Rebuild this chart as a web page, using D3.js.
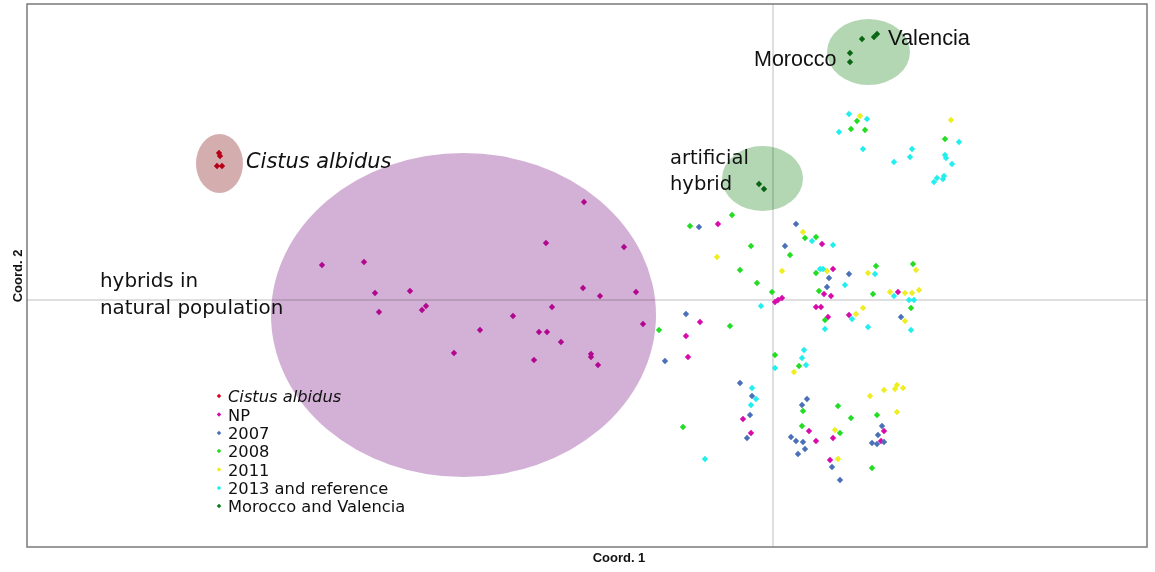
<!DOCTYPE html>
<html><head><meta charset="utf-8">
<script src="https://cdn.jsdelivr.net/npm/d3@7"></script>
<style>body{margin:0;background:#fff;} svg{display:block;}</style>
</head><body>
<svg id="chart" width="1155" height="572"></svg>
<script>
// ---- Data (Coord. 1, Coord. 2) ----
const seriesNames = ["Cistus albidus","NP","2007","2008","2011","2013 and reference","Morocco and Valencia"];
const seriesColors = ["#dc0020","#d70aaa","#4a70b8","#22dd22","#eeee22","#22eeee","#0a7a18"];

const cistusAlbidus = [[-0.554,0.147],[-0.553,0.144],[-0.556,0.134],[-0.551,0.134]];
const np = [
 [-0.189,0.098],[-0.227,0.057],[-0.149,0.053],[-0.451,0.035],[-0.409,0.038],[-0.398,0.007],[-0.363,0.009],
 [-0.190,0.012],[-0.173,0.004],[-0.137,0.008],[-0.394,-0.012],[-0.351,-0.010],[-0.347,-0.006],[-0.221,-0.007],
 [-0.260,-0.016],[-0.130,-0.024],[-0.293,-0.030],[-0.234,-0.032],[-0.226,-0.032],[-0.212,-0.042],[-0.319,-0.053],
 [-0.239,-0.060],[-0.182,-0.054],[-0.182,-0.057],[-0.175,-0.065],
 [-0.055,0.076],[0.049,0.056],[0.060,0.031],[0.051,0.006],[0.058,0.004],[0.002,-0.002],[0.005,0.000],[0.009,0.002],
 [0.043,-0.007],[0.048,-0.007],[0.055,-0.017],[0.076,-0.015],[0.125,0.008],[-0.073,-0.022],[-0.087,-0.036],
 [-0.085,-0.057],[-0.030,-0.119],[-0.022,-0.133],[0.036,-0.131],[0.043,-0.141],[0.060,-0.138],[0.057,-0.160],
 [0.111,-0.131],[0.108,-0.141]
];
const y2007 = [
 [-0.074,0.073],[0.023,0.076],[0.012,0.054],[0.056,0.022],[0.076,0.026],[0.054,0.013],[0.128,-0.017],[-0.087,-0.014],
 [-0.108,-0.061],[-0.033,-0.083],[-0.021,-0.096],[-0.023,-0.115],[-0.026,-0.138],[0.034,-0.099],[0.029,-0.105],
 [0.018,-0.137],[0.023,-0.141],[0.030,-0.142],[0.032,-0.149],[0.025,-0.154],[0.059,-0.167],[0.067,-0.180],
 [0.109,-0.126],[0.105,-0.135],[0.099,-0.143],[0.104,-0.144],[0.111,-0.142]
];
const y2008 = [
 [0.084,0.179],[0.078,0.171],[0.092,0.170],[0.172,0.161],[-0.041,0.085],[-0.083,0.074],[-0.022,0.054],[-0.033,0.030],
 [-0.016,0.017],[-0.001,0.008],[0.032,0.062],[0.043,0.063],[0.017,0.045],[0.043,0.027],[0.046,0.009],[0.103,0.034],
 [0.140,0.036],[0.100,0.006],[0.138,-0.008],[0.052,-0.020],[-0.114,-0.030],[-0.043,-0.026],[0.002,-0.055],
 [0.026,-0.066],[-0.090,-0.127],[0.030,-0.111],[0.029,-0.126],[0.065,-0.106],[0.078,-0.118],[0.067,-0.133],
 [0.104,-0.115],[0.099,-0.168]
];
const y2011 = [
 [0.087,0.184],[0.178,0.180],[-0.056,0.043],[0.030,0.068],[0.009,0.029],[0.054,0.029],[0.095,0.027],[0.143,0.030],
 [0.117,0.008],[0.132,0.007],[0.139,0.007],[0.146,0.010],[0.083,-0.014],[0.090,-0.008],[0.132,-0.021],[0.021,-0.072],
 [0.097,-0.096],[0.111,-0.090],[0.122,-0.089],[0.124,-0.085],[0.130,-0.088],[0.124,-0.112],[0.062,-0.130],[0.065,-0.159]
];
const y2013 = [
 [0.076,0.186],[0.094,0.181],[0.066,0.168],[0.090,0.151],[0.121,0.138],[0.139,0.151],[0.137,0.143],[0.186,0.158],
 [0.172,0.145],[0.173,0.142],[0.179,0.136],[0.171,0.124],[0.164,0.122],[0.161,0.118],[0.170,0.121],[0.039,0.059],
 [0.060,0.055],[0.047,0.031],[0.050,0.031],[0.072,0.015],[0.102,0.026],[0.121,0.004],[0.136,0.000],[0.141,0.000],
 [-0.012,-0.006],[0.052,-0.029],[0.079,-0.019],[0.095,-0.027],[0.138,-0.030],[0.002,-0.068],[0.031,-0.050],
 [0.029,-0.058],[0.033,-0.065],[-0.021,-0.088],[-0.017,-0.099],[-0.022,-0.105],[-0.068,-0.159]
];
const moroccoValencia = [[0.089,0.261],[0.101,0.263],[0.104,0.266],[0.077,0.247],[0.077,0.238],[-0.014,0.116],[-0.009,0.111]];
const allSeries = [cistusAlbidus, np, y2007, y2008, y2011, y2013, moroccoValencia];

// group ellipses: [cx, cy, rx, ry] in data units
const ellipseData = [[-0.5535,0.1365,0.0235,0.0295],[-0.3095,-0.015,0.1925,0.162],[-0.0105,0.1215,0.0405,0.0325],[0.0955,0.248,0.0415,0.033]];
const ellipseColors = ["#d4aeaf","#d3b1d6","#b3d6b3","#b3d6b3"];

const xDomain = [-0.746, 0.374];
const yDomain = [-0.247, 0.296];
const xTitle = "Coord. 1", yTitle = "Coord. 2";

// ---- Drawing ----
const svg = d3.select("#chart");
const L = 27, R = 1147, T = 4, B = 547;
const x = d3.scaleLinear().domain(xDomain).range([L, R]);
const y = d3.scaleLinear().domain(yDomain).range([B, T]);

// zero lines
svg.append("line").attr("x1", x(0)).attr("x2", x(0)).attr("y1", T).attr("y2", B)
  .attr("stroke", "#d4d4d4").attr("stroke-width", 1.5);
svg.append("line").attr("x1", L).attr("x2", R).attr("y1", y(0)).attr("y2", y(0))
  .attr("stroke", "#d4d4d4").attr("stroke-width", 1.5);

// points
const diamond = d3.symbol().type(d3.symbolSquare).size(20);
allSeries.forEach((s, i) => {
  svg.append("g").selectAll("path").data(s).join("path")
    .attr("d", diamond)
    .attr("transform", d => `translate(${x(d[0])},${y(d[1])}) rotate(45)`)
    .attr("fill", seriesColors[i]);
});

// ellipses (multiply over points)
svg.append("g").selectAll("ellipse").data(ellipseData).join("ellipse")
  .attr("cx", d => x(d[0])).attr("cy", d => y(d[1]))
  .attr("rx", d => x(d[0] + d[2]) - x(d[0]))
  .attr("ry", d => y(d[1]) - y(d[1] + d[3]))
  .attr("fill", (d, i) => ellipseColors[i])
  .style("mix-blend-mode", "multiply");

// annotations
const ann = svg.append("g").attr("fill", "#111");
ann.append("text").attr("x", 246).attr("y", 168).attr("font-family", "DejaVu Sans").attr("font-style", "italic")
  .attr("font-size", 20.9).text("Cistus albidus");
ann.append("text").attr("x", 670).attr("y", 164).attr("font-family", "DejaVu Sans").attr("font-size", 19.5).text("artificial");
ann.append("text").attr("x", 670).attr("y", 190).attr("font-family", "DejaVu Sans").attr("font-size", 19.5).text("hybrid");
ann.append("text").attr("x", 100).attr("y", 287).attr("font-family", "DejaVu Sans").attr("font-size", 19.9).text("hybrids in");
ann.append("text").attr("x", 100).attr("y", 314).attr("font-family", "DejaVu Sans").attr("font-size", 19.9).text("natural population");
ann.append("text").attr("x", 888).attr("y", 45).attr("font-family", "Liberation Sans").attr("font-size", 21.8).text("Valencia");
ann.append("text").attr("x", 754).attr("y", 66).attr("font-family", "Liberation Sans").attr("font-size", 21.5).text("Morocco");

// legend
const legend = svg.append("g");
const legendY = [396, 414.5, 433, 451, 469.5, 488, 506];
seriesNames.forEach((n, i) => {
  legend.append("path").attr("d", d3.symbol().type(d3.symbolSquare).size(10))
    .attr("transform", `translate(219,${legendY[i]}) rotate(45)`).attr("fill", seriesColors[i]);
  legend.append("text").attr("x", 228).attr("y", legendY[i] + 6)
    .attr("font-family", "DejaVu Sans").attr("font-size", 16.3).attr("fill", "#111")
    .attr("font-style", i === 0 ? "italic" : "normal").text(n);
});

// axis titles
svg.append("text").attr("x", 619).attr("y", 562).attr("text-anchor", "middle")
  .attr("font-family", "Liberation Sans").attr("font-weight", "bold").attr("font-size", 13).attr("fill", "#111").text(xTitle);
svg.append("text").attr("transform", "translate(22,276) rotate(-90)").attr("text-anchor", "middle")
  .attr("font-family", "Liberation Sans").attr("font-weight", "bold").attr("font-size", 13).attr("fill", "#111").text(yTitle);

// frame
svg.append("rect").attr("x", L).attr("y", T).attr("width", R - L).attr("height", B - T)
  .attr("fill", "none").attr("stroke", "#7a7a7a").attr("stroke-width", 1.5);
</script>
</body></html>
